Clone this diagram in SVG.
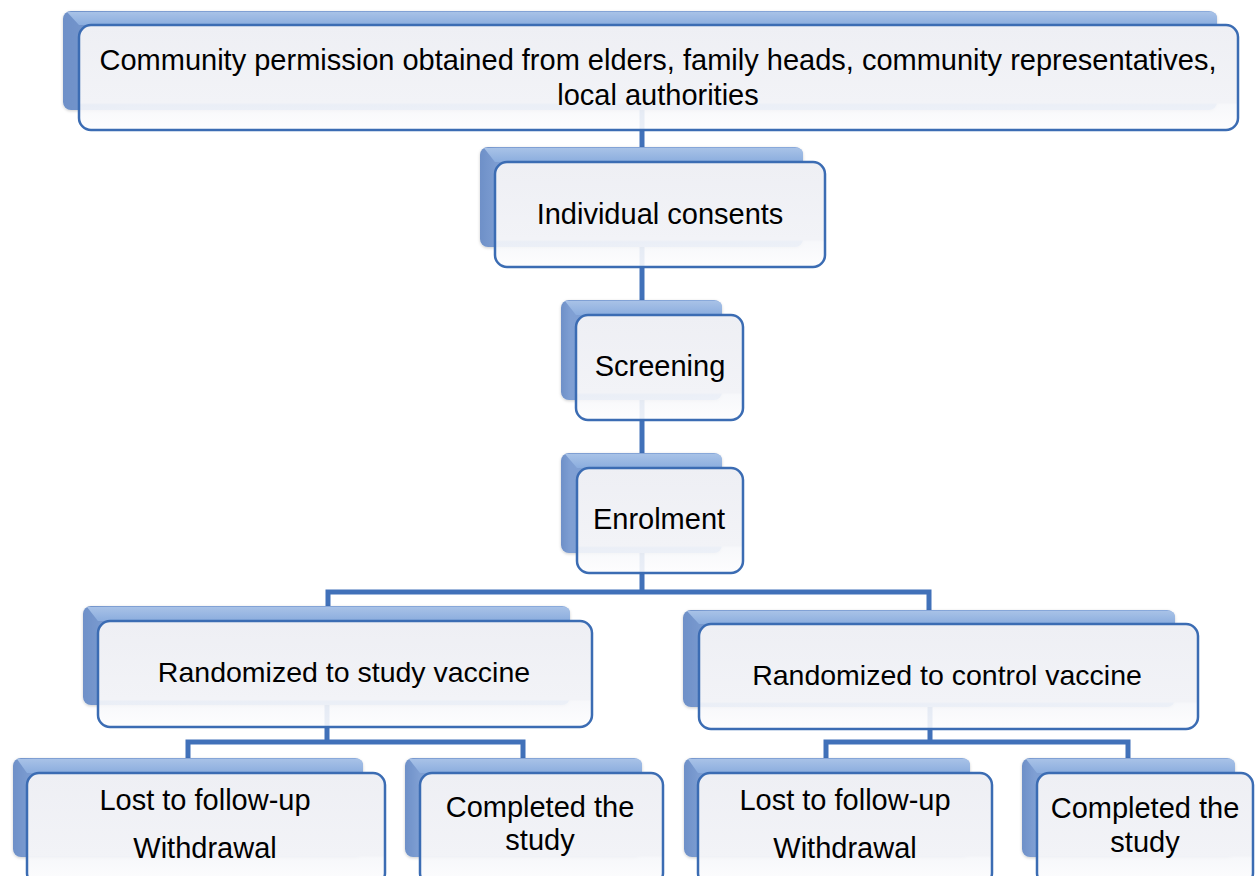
<svg xmlns="http://www.w3.org/2000/svg" width="1255" height="876" viewBox="0 0 1255 876">
<style>
.back{fill:url(#gLeft);filter:url(#sh)}
.topface{fill:url(#gTop)}
.front{fill:url(#gFront);stroke:#3b6cb3;stroke-width:2.5}
.t{font-family:"Liberation Sans",Arial,sans-serif;font-size:29px;fill:#000;text-anchor:middle}
.t2{font-size:28.5px}
.conn{fill:none;stroke:#4171b9;stroke-width:5;stroke-linejoin:miter;stroke-linecap:butt}
</style>
<defs>
<linearGradient id="gTop" x1="0" y1="0" x2="0" y2="1">
<stop offset="0" stop-color="#a8c2e7"/>
<stop offset="1" stop-color="#8badde"/>
</linearGradient>
<linearGradient id="gLeft" x1="0" y1="0" x2="1" y2="0">
<stop offset="0" stop-color="#6e90c8"/>
<stop offset="0.06" stop-color="#7f9fd3"/>
<stop offset="1" stop-color="#8aaadb"/>
</linearGradient>
<linearGradient id="gFront" x1="0" y1="0" x2="0" y2="1">
<stop offset="0" stop-color="#eeeff4"/>
<stop offset="0.74" stop-color="#f2f3f7"/>
<stop offset="0.76" stop-color="#f6f7fa" stop-opacity="0.9"/>
<stop offset="1" stop-color="#fdfdfe" stop-opacity="0.9"/>
</linearGradient>
<filter id="sh" x="-5%" y="-10%" width="110%" height="125%">
<feDropShadow dx="0" dy="1" stdDeviation="1.5" flood-color="#000" flood-opacity="0.2"/>
</filter>
</defs>

<g id="connectors">
<path class="conn" d="M642,80 V150"/>
<path class="conn" d="M642,215 V303"/>
<path class="conn" d="M642,368 V456"/>
<path class="conn" d="M642,520 V592 M328,612 V592 H929 V614"/>
<path class="conn" d="M327,674 V742 M188,762 V742 H523 V762"/>
<path class="conn" d="M930,676 V742 M826,762 V742 H1128 V762"/>
</g>

<g id="n1">
<rect class="back" x="63" y="11" width="1154" height="99" rx="8"/>
<path class="topface" d="M67,12 H1211 Q1217,12 1217,18 V25 H79 Z"/>
<rect class="front" x="79" y="25" width="1159" height="105" rx="12"/>
<text class="t" x="658" y="70">Community permission obtained from elders, family heads, community representatives,</text>
<text class="t" x="658" y="105">local authorities</text>
</g>

<g id="n2">
<rect class="back" x="480" y="147" width="323" height="100" rx="8"/>
<path class="topface" d="M484,148 H797 Q803,148 803,154 V162 H495 Z"/>
<rect class="front" x="495" y="162" width="330" height="105" rx="12"/>
<text class="t" x="660" y="224">Individual consents</text>
</g>

<g id="n3">
<rect class="back" x="561" y="300" width="161" height="100" rx="8"/>
<path class="topface" d="M565,301 H716 Q722,301 722,307 V315 H576 Z"/>
<rect class="front" x="576" y="315" width="167" height="105" rx="12"/>
<text class="t" x="660" y="376">Screening</text>
</g>

<g id="n4">
<rect class="back" x="561" y="453" width="161" height="100" rx="8"/>
<path class="topface" d="M565,454 H716 Q722,454 722,460 V468 H577 Z"/>
<rect class="front" x="577" y="468" width="166" height="105" rx="12"/>
<text class="t" x="659" y="529">Enrolment</text>
</g>

<g id="n5">
<rect class="back" x="83" y="606" width="487" height="99" rx="8"/>
<path class="topface" d="M87,607 H564 Q570,607 570,613 V621 H98 Z"/>
<rect class="front" x="98" y="621" width="494" height="106" rx="12"/>
<text class="t t2" x="344" y="682">Randomized to study vaccine</text>
</g>

<g id="n6">
<rect class="back" x="683" y="610" width="492" height="97" rx="8"/>
<path class="topface" d="M687,611 H1169 Q1175,611 1175,617 V624 H699 Z"/>
<rect class="front" x="699" y="624" width="499" height="105" rx="12"/>
<text class="t t2" x="947" y="685">Randomized to control vaccine</text>
</g>

<g id="n7">
<rect class="back" x="13" y="758" width="350" height="99" rx="8"/>
<path class="topface" d="M17,759 H357 Q363,759 363,765 V773 H27 Z"/>
<rect class="front" x="27" y="773" width="358" height="112" rx="12"/>
<text class="t" x="205" y="810">Lost to follow-up</text>
<text class="t" x="205" y="858">Withdrawal</text>
</g>

<g id="n8">
<rect class="back" x="405" y="758" width="237" height="99" rx="8"/>
<path class="topface" d="M409,759 H636 Q642,759 642,765 V773 H420 Z"/>
<rect class="front" x="420" y="773" width="243" height="112" rx="12"/>
<text class="t" x="540" y="817">Completed the</text>
<text class="t" x="540" y="850">study</text>
</g>

<g id="n9">
<rect class="back" x="684" y="758" width="286" height="99" rx="8"/>
<path class="topface" d="M688,759 H964 Q970,759 970,765 V773 H698 Z"/>
<rect class="front" x="698" y="773" width="294" height="112" rx="12"/>
<text class="t" x="845" y="810">Lost to follow-up</text>
<text class="t" x="845" y="858">Withdrawal</text>
</g>

<g id="n10">
<rect class="back" x="1022" y="758" width="213" height="99" rx="8"/>
<path class="topface" d="M1026,759 H1229 Q1235,759 1235,765 V773 H1037 Z"/>
<rect class="front" x="1037" y="773" width="216" height="112" rx="12"/>
<text class="t" x="1145" y="818">Completed the</text>
<text class="t" x="1145" y="852">study</text>
</g>
</svg>
